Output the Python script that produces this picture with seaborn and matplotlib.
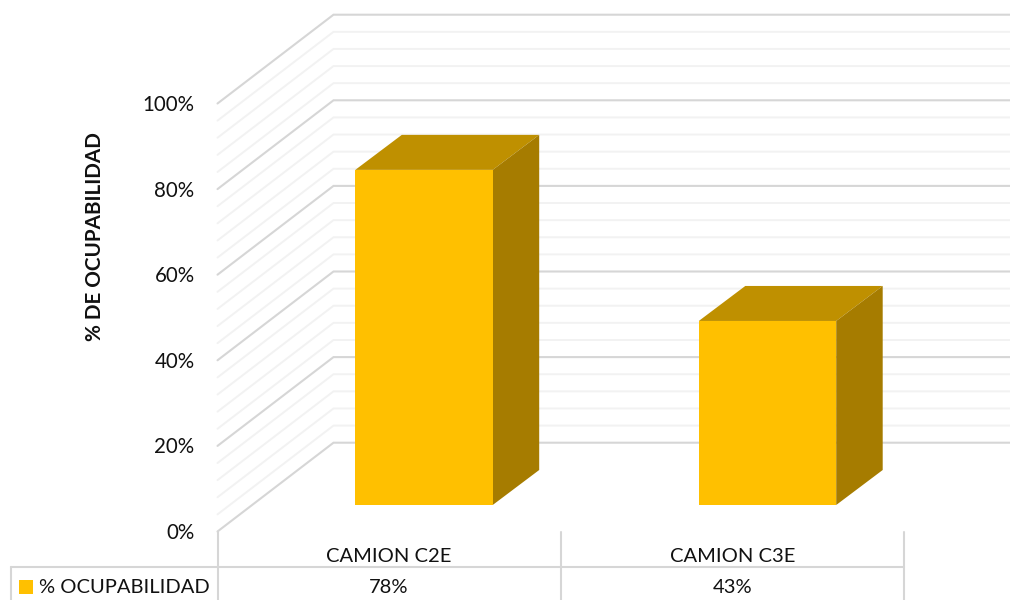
import numpy as np
import pandas as pd
import matplotlib
matplotlib.use("Agg")
import matplotlib.pyplot as plt
import seaborn as sns

categories = ["CAMION C2E", "CAMION C3E"]
ocupabilidad = [78.3, 43]
value_labels = ["78%", "43%"]
major_ticks = [0, 20, 40, 60, 80, 100]
minor_ticks = [4, 8, 12, 16, 24, 28, 32, 36, 44, 48, 52, 56, 64, 68, 72, 76, 84, 88, 92, 96]

# one category = 343.5 px, 1% = 4.28 px, bars stand at pixel y=505
X_SCALE = 343.5
Y_SCALE = 4.28


def xpx(px):
    return (px - 424) / X_SCALE


def ypx(px):
    return (505 - px) / Y_SCALE


sns.set_theme(style="white")
plt.rcParams["font.family"] = ["Lato", "DejaVu Sans"]

df = pd.DataFrame({"camion": categories, "pct": ocupabilidad})

fig = plt.figure(figsize=(10.1, 6), dpi=100)
ax = fig.add_axes([0, 0, 1, 1])

sns.barplot(data=df, x="camion", y="pct", color="#FFC000", saturation=1,
            width=0.4, ax=ax, zorder=4, edgecolor="none", linewidth=0)

# wall + floor gridlines
front_x = xpx(217.5)
back_x = xpx(333.5)
right_x = xpx(1010)
front_base = ypx(531.5)
back_base = ypx(442.7)


def grid_line(pct, color, lw):
    ax.plot([front_x, back_x, right_x],
            [front_base + pct, back_base + pct, back_base + pct],
            color=color, lw=lw, zorder=1, solid_joinstyle="miter")


for t in minor_ticks:
    grid_line(t, "#f2f2f2", 1.4)
for t in major_ticks:
    grid_line(t, "#d6d6d6", 1.5)

# 3d faces of the bars
depth_x = 46.5 / X_SCALE
depth_y = 35 / Y_SCALE
for bar in ax.patches:
    x0 = bar.get_x()
    x1 = x0 + bar.get_width()
    top = bar.get_height()
    ax.fill([x0, x1, x1 + depth_x, x0 + depth_x],
            [top, top, top + depth_y, top + depth_y],
            color="#BF9000", lw=0, zorder=3)
    ax.fill([x1, x1 + depth_x, x1 + depth_x, x1],
            [0, depth_y, top + depth_y, top],
            color="#A67C00", lw=0, zorder=3)

# data table under the chart
table_color = "#d6d6d6"
for px in [217.5, 561, 904]:
    ax.plot([xpx(px), xpx(px)], [ypx(531.5), ypx(600)], color=table_color, lw=1.5, zorder=1)
ax.plot([xpx(11), xpx(904)], [ypx(567), ypx(567)], color=table_color, lw=1.5, zorder=1)
ax.plot([xpx(11), xpx(11)], [ypx(567), ypx(600)], color=table_color, lw=1.5, zorder=1)

text_size = 14.5
text_color = "#111111"
for i, (name, lab) in enumerate(zip(categories, value_labels)):
    cx = i - 35 / X_SCALE
    ax.text(cx, ypx(556), name, ha="center", va="center", fontsize=text_size, color=text_color)
    ax.text(cx, ypx(587.5), lab, ha="center", va="center", fontsize=text_size, color=text_color)

ax.fill([xpx(19), xpx(33), xpx(33), xpx(19)], [ypx(580), ypx(580), ypx(594), ypx(594)],
        color="#FFC000", lw=0)
ax.text(xpx(39), ypx(587.5), "% OCUPABILIDAD", ha="left", va="center",
        fontsize=text_size, color=text_color)

# y axis labels
for t in major_ticks:
    ax.text(xpx(194.5), front_base + t - 1.5 / Y_SCALE, f"{t}%", ha="right", va="center",
            fontsize=14.8, color=text_color)
ax.text(xpx(95), ypx(237), "% DE OCUPABILIDAD", rotation=90, ha="center", va="center",
        fontsize=14.9, fontweight="bold", color=text_color)

ax.set_xlim(xpx(0), xpx(1010))
ax.set_ylim(ypx(600), ypx(0))
ax.axis("off")

fig.savefig("out.png", dpi=100)
plt.close(fig)
